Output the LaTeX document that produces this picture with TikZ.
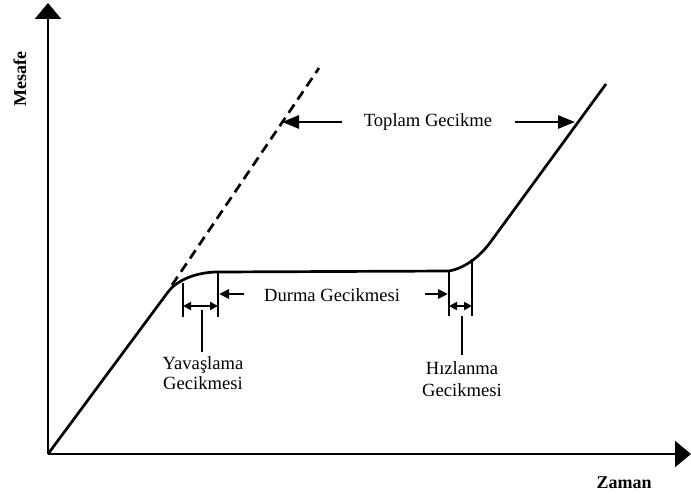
\documentclass[tikz,border=0pt]{standalone}
\usepackage{fontspec}
\setmainfont{Liberation Serif}
\usetikzlibrary{arrows.meta}
\begin{document}
\begin{tikzpicture}[x=1pt,y=-1pt,
  thick line/.style={line width=2.7pt},
  thin line/.style={line width=1.2pt},
  axisarrow/.style={thick line,-{Triangle[length=16pt,width=26pt]}},
  bigarrow/.style={thick line,-{Triangle[length=17pt,width=13pt]}},
  midarrow/.style={thick line,-{Triangle[length=10pt,width=9pt]}},
  dblarrow/.style={thick line,{Triangle[length=8pt,width=8pt]}-{Triangle[length=8pt,width=8pt]}},
  lbl/.style={inner sep=0pt,font=\fontsize{18.6}{21.5}\selectfont,align=center},
  blbl/.style={inner sep=0pt,font=\fontsize{18}{21}\selectfont\bfseries},
  line cap=butt]
\useasboundingbox (0,0) rectangle (691,495);
% axes
\coordinate (O) at (48,454);
\coordinate (Ytip) at (48,3);
\coordinate (Xtip) at (691,454);
\draw[axisarrow] (O) -- (Ytip);
\draw[axisarrow] (O) -- (Xtip);
\node[blbl,rotate=90] (mesafe) at (20,79) {Mesafe};
\node[blbl] (zaman) at (624,483) {Zaman};
% main curve
\coordinate (A) at (168,292);
\coordinate (B) at (218,272);
\coordinate (C) at (449,271);
\coordinate (D) at (492,240);
\coordinate (E) at (606,84);
\draw[thick line,line join=round] (O) -- (A) .. controls (176,281) and (195,272) .. (B)
  -- (C) .. controls (465,268) and (480,257) .. (D) -- (E);
% dashed extension
\coordinate (F) at (172,285);
\coordinate (G) at (319,68);
\draw[thick line,dash pattern=on 10pt off 6pt] (F) -- (G);
% Toplam Gecikme
\node[lbl] (toplam) at (428,122) {Toplam Gecikme};
\coordinate (TL) at (282,122);
\coordinate (TR) at (575,122);
\draw[bigarrow] (342,122) coordinate (tl0) -- (TL);
\draw[bigarrow] (515,122) coordinate (tr0) -- (TR);
% Yavaslama ticks
\coordinate (Y1t) at (183,283);
\coordinate (Y1b) at (183,317);
\coordinate (Y2t) at (218,272);
\coordinate (Y2b) at (218,317);
\draw[thick line] (Y1t) -- (Y1b);
\draw[thick line] (Y2t) -- (Y2b);
\draw[dblarrow] (183,306) coordinate (ya) -- (218,306) coordinate (yb);
\draw[thin line] (202,310) coordinate (yl0) -- (202,352) coordinate (yl1);
\node[lbl] (yav) at (203,373) {Yavaşlama\\[-1.5pt]Gecikmesi};
% Hizlanma ticks
\coordinate (H1t) at (449,271);
\coordinate (H1b) at (449,316);
\coordinate (H2t) at (472,259);
\coordinate (H2b) at (472,316);
\draw[thick line] (H1t) -- (H1b);
\draw[thick line] (H2t) -- (H2b);
\draw[dblarrow] (449,306) coordinate (ha) -- (472,306) coordinate (hb);
\draw[thin line] (462,316) coordinate (hl0) -- (462,355) coordinate (hl1);
\node[lbl] (hiz) at (462,379) {Hızlanma\\[0.5pt]Gecikmesi};
% Durma Gecikmesi
\node[lbl] (durma) at (332,295) {Durma Gecikmesi};
\draw[midarrow] (244,294) coordinate (dl0) -- (219,294) coordinate (dl1);
\draw[midarrow] (425,294) coordinate (dr0) -- (448,294) coordinate (dr1);
\end{tikzpicture}
\end{document}
